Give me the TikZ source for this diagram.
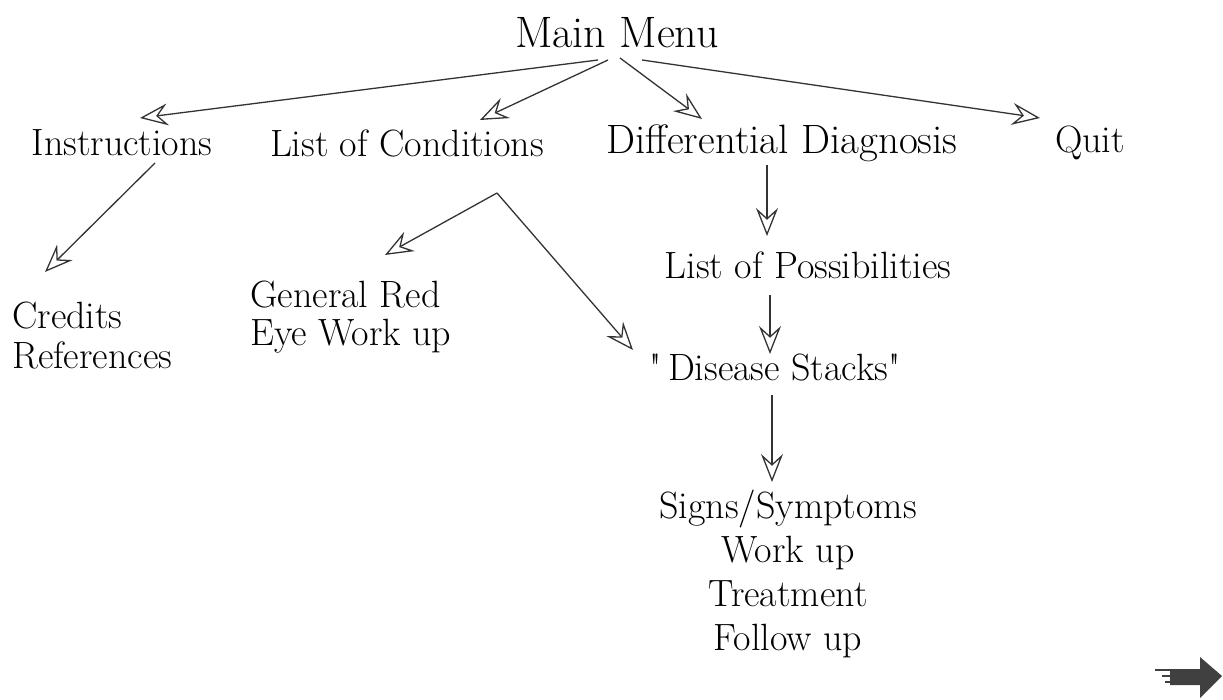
\documentclass[tikz,border=0pt]{standalone}
\usetikzlibrary{arrows.meta}
\begin{document}
\begin{tikzpicture}[x=1pt,y=-1pt,
  lbl/.style={inner sep=0pt, font=\fontsize{38}{40}\selectfont},
  conn/.style={line width=1.3pt, draw=black!80,
    -{Stealth[open, length=28pt, width=22pt, inset=10pt, line width=1.3pt]}}]
\useasboundingbox (0,0) rectangle (1223,700);
% nodes
\node[lbl, font=\fontsize{44}{46}\selectfont] (mm) at (617,33) {Main Menu};
\node[lbl] (ins) at (122,143) {Instructions};
\node[lbl] (loc) at (407,143) {List of Conditions};
\node[lbl, font=\fontsize{41}{44}\selectfont] (dd) at (782,143) {Differential Diagnosis};
\node[lbl] (quit) at (1090,143) {Quit};
\node[lbl, align=left, anchor=west] (cred) at (12,336) {Credits\\References};
\node[lbl, align=left, anchor=west, font=\fontsize{38}{38}\selectfont] (gre) at (250,317) {General Red\\Eye Work up};
\node[lbl] (lop) at (808,265) {List of Possibilities};
\node[lbl] (ds) at (775,368) {\textquotedbl\,Disease Stacks\textquotedbl};
\node[lbl, align=center, font=\fontsize{38}{44}\selectfont] (ss) at (788,574) {Signs/Symptoms\\Work up\\Treatment\\Follow up};
% connector end points
\coordinate (mm1) at (598,60);
\coordinate (mm2) at (608,60);
\coordinate (mm3) at (620,58);
\coordinate (mm4) at (642,60);
\coordinate (insT) at (140,118);
\coordinate (locT) at (480,120);
\coordinate (ddT) at (702,119);
\coordinate (quitT) at (1040,118);
\coordinate (insB) at (155,163);
\coordinate (credT) at (45,272);
\coordinate (locB) at (497,193);
\coordinate (greT) at (385,255);
\coordinate (dsT) at (633,350);
\coordinate (ddB) at (767,165);
\coordinate (lopT) at (767,236);
\coordinate (lopB) at (770,295);
\coordinate (dsT2) at (770,354);
\coordinate (dsB) at (772,395);
\coordinate (ssT) at (772,482);
% connectors
\draw[conn] (mm1) -- (insT);
\draw[conn] (mm2) -- (locT);
\draw[conn] (mm3) -- (ddT);
\draw[conn] (mm4) -- (quitT);
\draw[conn] (insB) -- (credT);
\draw[conn] (locB) -- (greT);
\draw[conn] (locB) -- (dsT);
\draw[conn] (ddB) -- (lopT);
\draw[conn] (lopB) -- (dsT2);
\draw[conn] (dsB) -- (ssT);
% decorative arrow bottom right
\fill[black!75] (1170,669) -- (1200,669) -- (1200,657) -- (1222,676) -- (1200,698) -- (1200,685) -- (1170,685) -- cycle;
\draw[black!75, line width=2pt] (1155,670) -- (1172,670) (1162,676) -- (1172,676) (1165,682) -- (1172,682);
\end{tikzpicture}
\end{document}
